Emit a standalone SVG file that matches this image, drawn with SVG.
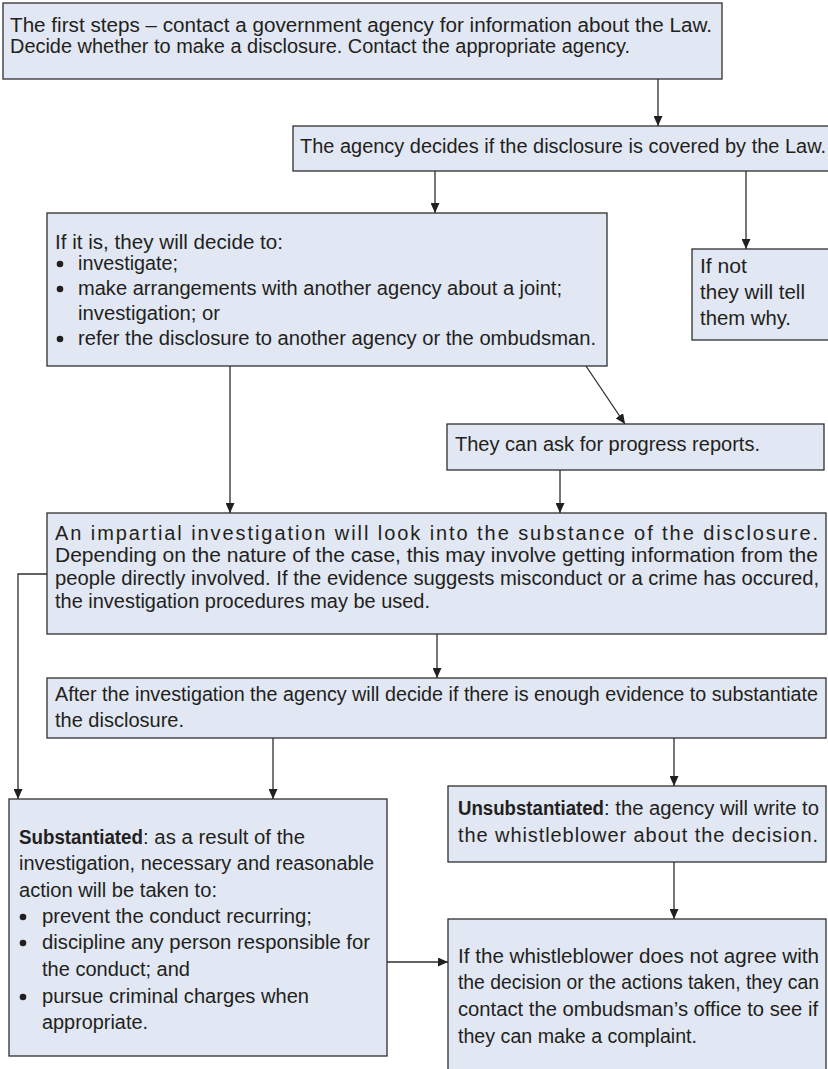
<svg xmlns="http://www.w3.org/2000/svg" width="828" height="1069" viewBox="0 0 828 1069">
<style>
.b{fill:#e1e7f3;stroke:#2e2e2e;stroke-width:1.3}
.t{font-family:"Liberation Sans",Arial,sans-serif;font-size:20px;fill:#231f20}
.bd{font-weight:bold}
.c{stroke:#2e2e2e;stroke-width:1.3;fill:none;marker-end:url(#ah)}
.d{fill:#231f20}
</style>
<defs>
<marker id="ah" markerUnits="userSpaceOnUse" markerWidth="10" markerHeight="9" refX="10" refY="4.5" orient="auto">
<path d="M0,0 L10,4.5 L0,9 z" fill="#231f20"/>
</marker>
</defs>
<rect width="828" height="1069" fill="#ffffff"/>
<g id="connectors">
<line class="c" x1="658" y1="79" x2="658" y2="126"/>
<line class="c" x1="435" y1="171" x2="435" y2="213"/>
<line class="c" x1="746" y1="171" x2="746" y2="249"/>
<line class="c" x1="586" y1="366" x2="625" y2="424"/>
<line class="c" x1="230" y1="366" x2="230" y2="513"/>
<line class="c" x1="560" y1="470" x2="560" y2="513"/>
<line class="c" x1="437" y1="634" x2="437" y2="678"/>
<polyline class="c" points="47,574 18,574 18,799"/>
<line class="c" x1="273" y1="738" x2="273" y2="799"/>
<line class="c" x1="674" y1="738" x2="674" y2="786"/>
<line class="c" x1="674" y1="862" x2="674" y2="919"/>
<line class="c" x1="387" y1="962" x2="448" y2="962"/>
</g>
<g id="n1">
<rect class="b" x="3" y="3" width="719" height="76"/>
<text class="t" x="10" y="32" textLength="702" lengthAdjust="spacingAndGlyphs">The first steps – contact a government agency for information about the Law.</text>
<text class="t" x="10" y="53" textLength="620" lengthAdjust="spacingAndGlyphs">Decide whether to make a disclosure. Contact the appropriate agency.</text>
</g>
<g id="n2">
<rect class="b" x="293" y="126" width="536" height="45"/>
<text class="t" x="300" y="153" textLength="526" lengthAdjust="spacingAndGlyphs">The agency decides if the disclosure is covered by the Law.</text>
</g>
<g id="n3">
<rect class="b" x="47" y="213" width="560" height="153"/>
<text class="t" x="55" y="249" textLength="228" lengthAdjust="spacingAndGlyphs">If it is, they will decide to:</text>
<circle class="d" cx="60" cy="264" r="3.3"/>
<text class="t" x="78" y="270" textLength="100" lengthAdjust="spacingAndGlyphs">investigate;</text>
<circle class="d" cx="60" cy="289" r="3.3"/>
<text class="t" x="78" y="295" textLength="484" lengthAdjust="spacingAndGlyphs">make arrangements with another agency about a joint;</text>
<text class="t" x="78" y="320" textLength="142" lengthAdjust="spacingAndGlyphs">investigation; or</text>
<circle class="d" cx="60" cy="339" r="3.3"/>
<text class="t" x="78" y="345" textLength="518" lengthAdjust="spacingAndGlyphs">refer the disclosure to another agency or the ombudsman.</text>
</g>
<g id="n4">
<rect class="b" x="692" y="249" width="137" height="91"/>
<text class="t" x="700" y="273" textLength="47" lengthAdjust="spacingAndGlyphs">If not</text>
<text class="t" x="700" y="299" textLength="105" lengthAdjust="spacingAndGlyphs">they will tell</text>
<text class="t" x="700" y="325" textLength="91" lengthAdjust="spacingAndGlyphs">them why.</text>
</g>
<g id="n5">
<rect class="b" x="447" y="424" width="377" height="46"/>
<text class="t" x="455" y="451" textLength="305" lengthAdjust="spacingAndGlyphs">They can ask for progress reports.</text>
</g>
<g id="n6">
<rect class="b" x="47" y="513" width="779" height="121"/>
<text class="t" x="55" y="540" textLength="763" lengthAdjust="spacing">An impartial investigation will look into the substance of the disclosure.</text>
<text class="t" x="55" y="562" textLength="763" lengthAdjust="spacingAndGlyphs">Depending on the nature of the case, this may involve getting information from the</text>
<text class="t" x="55" y="585" textLength="764" lengthAdjust="spacingAndGlyphs">people directly involved. If the evidence suggests misconduct or a crime has occured,</text>
<text class="t" x="55" y="608" textLength="375" lengthAdjust="spacingAndGlyphs">the investigation procedures may be used.</text>
</g>
<g id="n7">
<rect class="b" x="47" y="678" width="779" height="60"/>
<text class="t" x="55" y="701" textLength="763" lengthAdjust="spacingAndGlyphs">After the investigation the agency will decide if there is enough evidence to substantiate</text>
<text class="t" x="55" y="727" textLength="129" lengthAdjust="spacingAndGlyphs">the disclosure.</text>
</g>
<g id="n8">
<rect class="b" x="9" y="799" width="378" height="257"/>
<text class="t bd" x="19" y="844" textLength="124" lengthAdjust="spacingAndGlyphs">Substantiated</text>
<text class="t" x="143" y="844" textLength="162" lengthAdjust="spacingAndGlyphs">: as a result of the</text>
<text class="t" x="19" y="870" textLength="355" lengthAdjust="spacingAndGlyphs">investigation, necessary and reasonable</text>
<text class="t" x="19" y="897" textLength="198" lengthAdjust="spacingAndGlyphs">action will be taken to:</text>
<circle class="d" cx="23" cy="917" r="3.3"/>
<text class="t" x="42" y="923" textLength="270" lengthAdjust="spacingAndGlyphs">prevent the conduct recurring;</text>
<circle class="d" cx="23" cy="943" r="3.3"/>
<text class="t" x="42" y="949" textLength="328" lengthAdjust="spacingAndGlyphs">discipline any person responsible for</text>
<text class="t" x="42" y="976" textLength="148" lengthAdjust="spacingAndGlyphs">the conduct; and</text>
<circle class="d" cx="23" cy="997" r="3.3"/>
<text class="t" x="42" y="1003" textLength="267" lengthAdjust="spacingAndGlyphs">pursue criminal charges when</text>
<text class="t" x="42" y="1029" textLength="106" lengthAdjust="spacingAndGlyphs">appropriate.</text>
</g>
<g id="n9">
<rect class="b" x="448" y="786" width="378" height="76"/>
<text class="t bd" x="458" y="815" textLength="146" lengthAdjust="spacingAndGlyphs">Unsubstantiated</text>
<text class="t" x="604" y="815" textLength="215" lengthAdjust="spacingAndGlyphs">: the agency will write to</text>
<text class="t" x="458" y="842" textLength="360" lengthAdjust="spacing">the whistleblower about the decision.</text>
</g>
<g id="n10">
<rect class="b" x="448" y="919" width="378" height="151"/>
<text class="t" x="458" y="963" textLength="361" lengthAdjust="spacingAndGlyphs">If the whistleblower does not agree with</text>
<text class="t" x="458" y="989" textLength="361" lengthAdjust="spacingAndGlyphs">the decision or the actions taken, they can</text>
<text class="t" x="458" y="1016" textLength="360" lengthAdjust="spacingAndGlyphs">contact the ombudsman’s office to see if</text>
<text class="t" x="458" y="1043" textLength="239" lengthAdjust="spacingAndGlyphs">they can make a complaint.</text>
</g>
</svg>
